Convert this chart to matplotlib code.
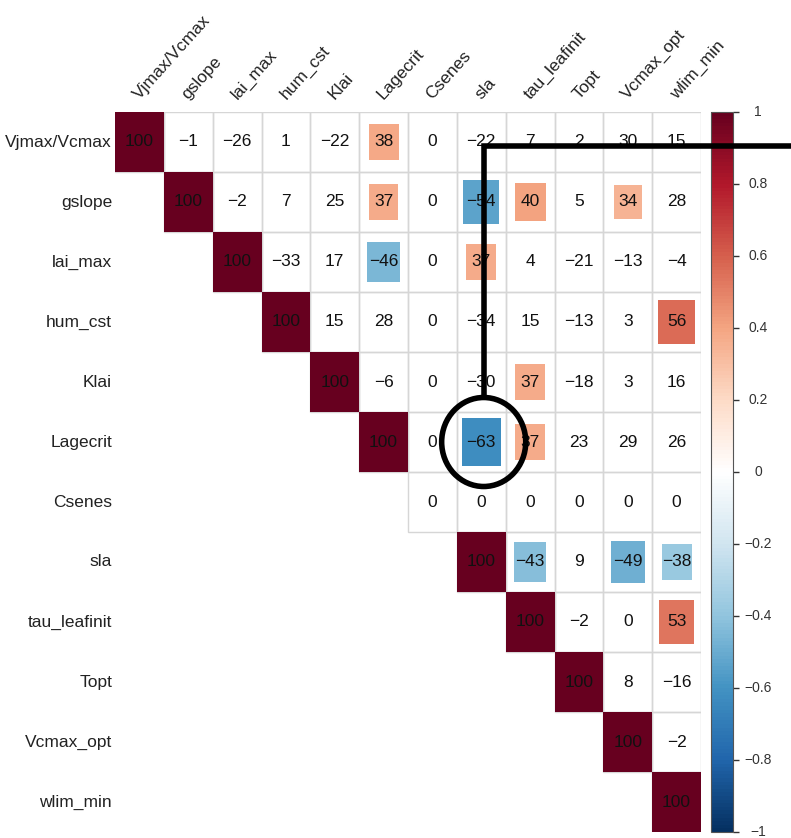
import numpy as np
import matplotlib.pyplot as plt
import matplotlib.cm as cm
from matplotlib.colors import LinearSegmentedColormap, Normalize
from matplotlib.patches import Rectangle, Ellipse
from matplotlib.lines import Line2D

plt.rcParams['font.family'] = ['Liberation Sans', 'DejaVu Sans']

params = ["Vjmax/Vcmax", "gslope", "lai_max", "hum_cst", "Klai", "Lagecrit",
          "Csenes", "sla", "tau_leafinit", "Topt", "Vcmax_opt", "wlim_min"]

# upper triangle of the correlation matrix (in %), one list per row
r_vjmax = [100, -1, -26, 1, -22, 38, 0, -22, 7, 2, 30, 15]
r_gslope = [100, -2, 7, 25, 37, 0, -54, 40, 5, 34, 28]
r_laimax = [100, -33, 17, -46, 0, 37, 4, -21, -13, -4]
r_humcst = [100, 15, 28, 0, -34, 15, -13, 3, 56]
r_klai = [100, -6, 0, -30, 37, -18, 3, 16]
r_lagecrit = [100, 0, -63, 37, 23, 29, 26]
r_csenes = [0, 0, 0, 0, 0, 0]
r_sla = [100, -43, 9, -49, -38]
r_tau = [100, -2, 0, 53]
r_topt = [100, 8, -16]
r_vcmaxopt = [100, -2]
r_wlim = [100]
rows = [r_vjmax, r_gslope, r_laimax, r_humcst, r_klai, r_lagecrit,
        r_csenes, r_sla, r_tau, r_topt, r_vcmaxopt, r_wlim]

# significant pairs (drawn as coloured squares)
signif = [("Vjmax/Vcmax", "Lagecrit"), ("gslope", "Lagecrit"), ("gslope", "sla"),
          ("gslope", "tau_leafinit"), ("gslope", "Vcmax_opt"), ("lai_max", "Lagecrit"),
          ("lai_max", "sla"), ("hum_cst", "wlim_min"), ("Klai", "tau_leafinit"),
          ("Lagecrit", "sla"), ("Lagecrit", "tau_leafinit"), ("sla", "tau_leafinit"),
          ("sla", "Vcmax_opt"), ("sla", "wlim_min"), ("tau_leafinit", "wlim_min")]

# highlighted cell
circled = ("Lagecrit", "sla")

n = len(params)
corr = np.full((n, n), np.nan)
for i, row in enumerate(rows):
    corr[i, i:] = row

col2 = ["#67001F", "#B2182B", "#D6604D", "#F4A582", "#FDDBC7", "#FFFFFF",
        "#D1E5F0", "#92C5DE", "#4393C3", "#2166AC", "#053061"]
cmap = LinearSegmentedColormap.from_list("rdbu", col2[::-1], N=200)
norm = Normalize(-1, 1)

W, H = 791, 838
fig = plt.figure(figsize=(W / 100, H / 100), dpi=100)
ax = fig.add_axes([115 / W, 1 - 832 / H, 586 / W, 720 / H])
ax.set_xlim(0, n)
ax.set_ylim(n, 0)
ax.axis('off')

for i in range(n):
    for j in range(i, n):
        v = corr[i, j]
        ax.add_patch(Rectangle((j, i), 1, 1, fill=False, edgecolor='#D6D6D6', lw=1, zorder=1))
        show = (i == j and v != 0) or (params[i], params[j]) in signif
        if show:
            s = np.sqrt(abs(v) / 100)
            ax.add_patch(Rectangle((j + 0.5 - s / 2, i + 0.5 - s / 2), s, s,
                                   facecolor=cmap(norm(v / 100)), edgecolor='none', zorder=2))
        txt = str(int(v)).replace('-', '\u2212')
        ax.text(j + 0.5, i + 0.5, txt, ha='center', va='center', fontsize=12.5,
                color='#111111', zorder=3)

# labels
for i, p in enumerate(params):
    ax.text(-0.06, i + 0.5, p, ha='right', va='center', fontsize=12.5, color='#222222')
    ax.text(i + 0.5, -0.2, p, ha='left', va='baseline', rotation=48,
            rotation_mode='anchor', fontsize=12.5, color='#222222')

# colorbar
cax = fig.add_axes([711 / W, 1 - 832 / H, 22 / W, 720 / H])
sm = cm.ScalarMappable(norm=norm, cmap=cmap)
cb = fig.colorbar(sm, cax=cax)
ticks = np.round(np.arange(-1, 1.01, 0.2), 1)
cb.set_ticks(ticks)
cax.set_yticklabels([])
cax.tick_params(length=4, width=1, colors='#333333')
for t in ticks:
    s = ('%g' % abs(t)) if abs(t) < 1e-9 else ('%g' % t)
    cax.text(2.14, t, s.replace('-', '\u2212'), transform=cax.get_yaxis_transform(),
             ha='center', va='center', fontsize=10, color='#333333')
cb.outline.set_edgecolor('#555555')
cb.outline.set_linewidth(0.8)

# annotation: circle on highlighted cell and connector line
ci = params.index(circled[0])
cj = params.index(circled[1])
cx, cy = cj + 0.55, ci + 0.5
ew, eh = 84 / 48.8, 89 / 60.0
fig.add_artist(Ellipse((cx, cy), ew, eh, transform=ax.transData, fill=False,
                       edgecolor='black', lw=4, zorder=10))
fig.add_artist(Line2D([cx, cx, 14.5], [cy - eh / 2, 0.57, 0.57], transform=ax.transData,
                      color='black', lw=4, solid_joinstyle='miter', zorder=10))

fig.savefig("out.png", dpi=100)
